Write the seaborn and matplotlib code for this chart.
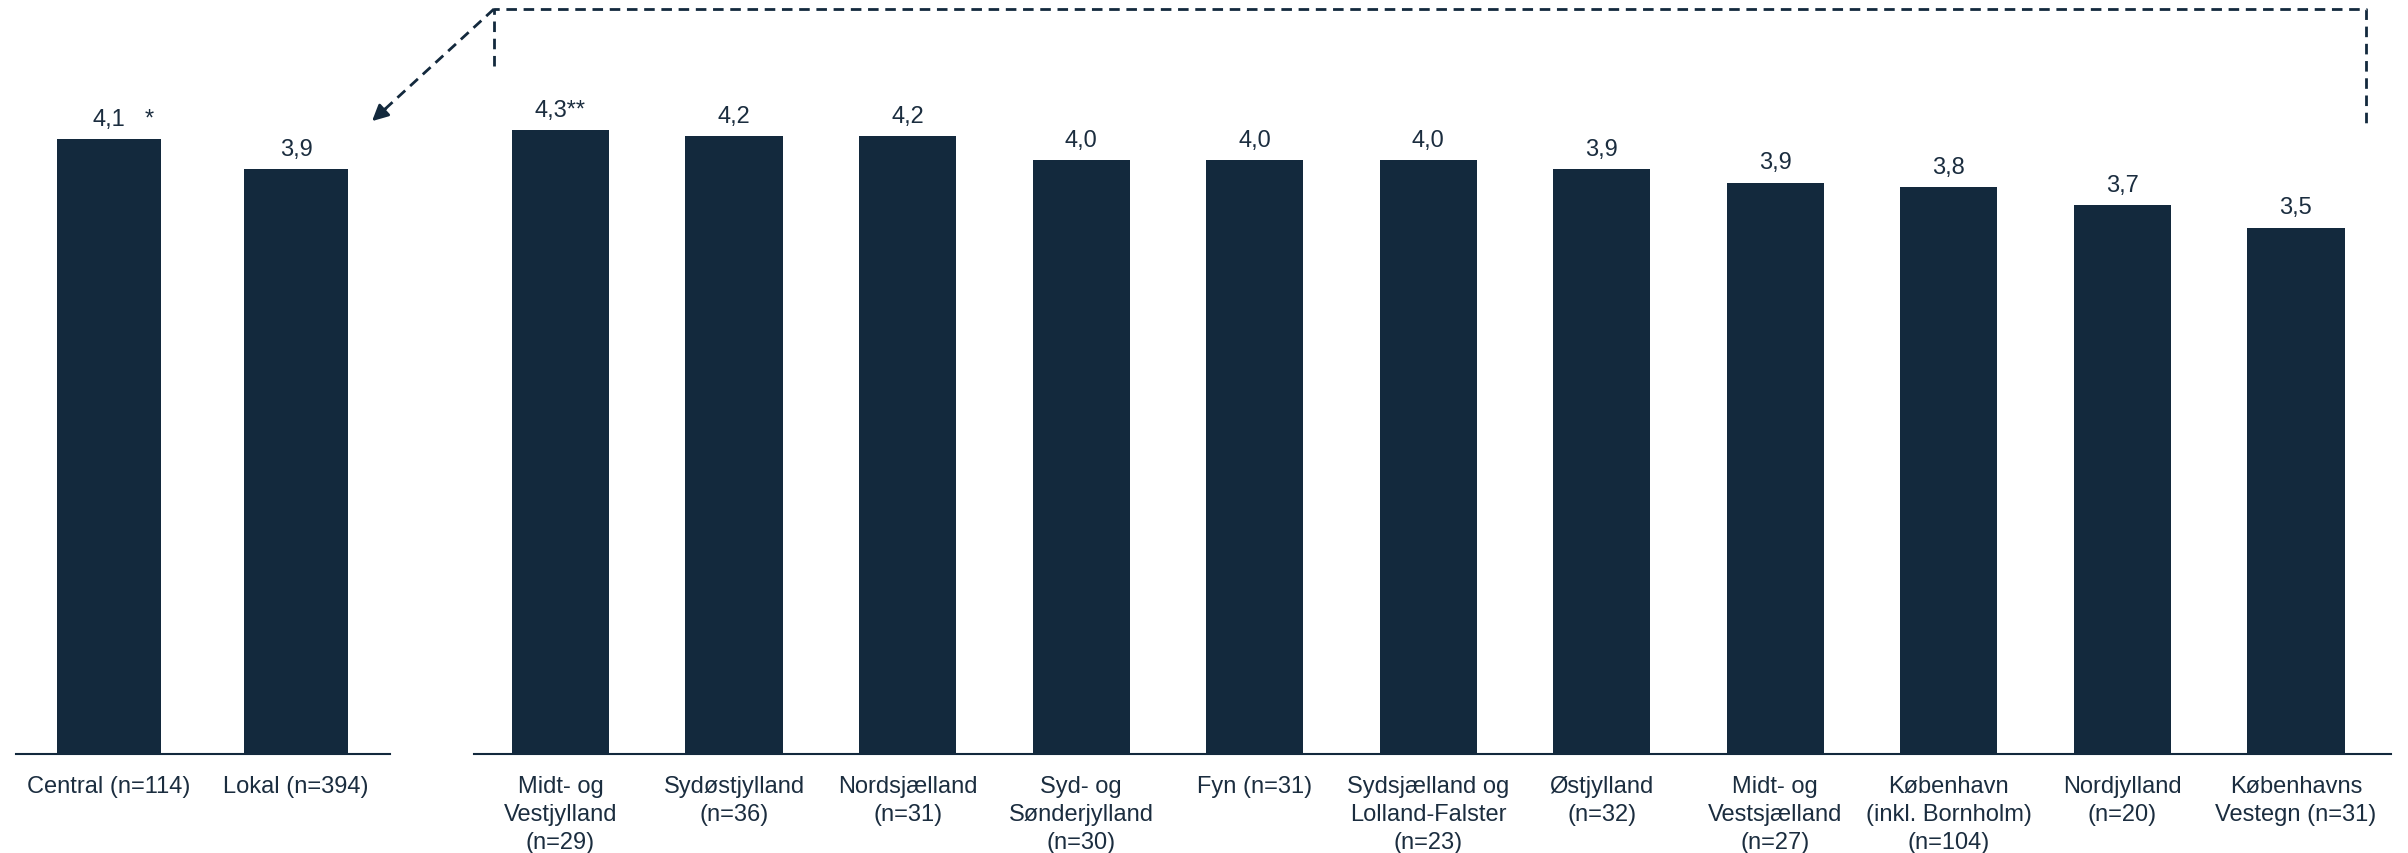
import matplotlib
matplotlib.use("Agg")
import matplotlib.pyplot as plt
import seaborn as sns
import pandas as pd
from matplotlib.lines import Line2D
from matplotlib.patches import FancyArrowPatch

# ---------------- data ----------------
left_categories = ["Central (n=114)", "Lokal (n=394)"]
left_values = [4.10, 3.90]
left_labels = ["4,1", "3,9"]
left_marks = ["*", ""]

right_categories = [
    "Midt- og\nVestjylland\n(n=29)",
    "Sydøstjylland\n(n=36)",
    "Nordsjælland\n(n=31)",
    "Syd- og\nSønderjylland\n(n=30)",
    "Fyn (n=31)",
    "Sydsjælland og\nLolland-Falster\n(n=23)",
    "Østjylland\n(n=32)",
    "Midt- og\nVestsjælland\n(n=27)",
    "København\n(inkl. Bornholm)\n(n=104)",
    "Nordjylland\n(n=20)",
    "Københavns\nVestegn (n=31)",
]
right_values = [4.16, 4.12, 4.12, 3.96, 3.96, 3.96, 3.90, 3.81, 3.78, 3.66, 3.51]
right_labels = ["4,3**", "4,2", "4,2", "4,0", "4,0", "4,0", "3,9", "3,9", "3,8", "3,7", "3,5"]

# ---------------- style ----------------
NAVY = "#13293d"
TEXT = "#1b2d3f"
sns.set_style("white")
plt.rcParams["font.family"] = ["Liberation Sans", "DejaVu Sans"]

W, H = 2408, 854
fig = plt.figure(figsize=(W / 100, H / 100), dpi=100)


def fx(px):
    return px / W


def fy(py):
    return 1 - py / H


ax_left = fig.add_axes([fx(15.5), 99 / H, 374 / W, 749.5 / H])
ax_right = fig.add_axes([fx(473.7), 99 / H, 1917.7 / W, 749.5 / H])


def draw(ax, cats, vals, labels, xmax):
    df = pd.DataFrame({"cat": cats, "val": vals})
    sns.barplot(data=df, x="cat", y="val", order=cats, color=NAVY,
                saturation=1, width=0.56, linewidth=0, ax=ax)
    ax.set_xlim(-0.5, xmax)
    ax.set_ylim(0, 5)
    ax.set_xlabel("")
    ax.set_ylabel("")
    ax.set_yticks([])
    ax.set_xticks(range(len(cats)))
    ax.set_xticklabels(cats, fontsize=17, color=TEXT, linespacing=1.35)
    ax.tick_params(axis="x", length=0, pad=15)
    for s in ["left", "top", "right"]:
        ax.spines[s].set_visible(False)
    ax.spines["bottom"].set_color(NAVY)
    ax.spines["bottom"].set_linewidth(1.5)
    ax.set_facecolor("none")
    for i, (v, lab) in enumerate(zip(vals, labels)):
        ax.annotate(lab, (i, v), xytext=(0, 7), textcoords="offset points",
                    ha="center", va="bottom", fontsize=17, color=TEXT)


draw(ax_left, left_categories, left_values, left_labels, 1.5)
draw(ax_right, right_categories, right_values, right_labels, 10.55)

for i, (v, m) in enumerate(zip(left_values, left_marks)):
    if m:
        ax_left.annotate(m, (i, v), xytext=(29, 7), textcoords="offset points",
                         ha="center", va="bottom", fontsize=17, color=TEXT)

# ---------------- dashed connector ----------------
dash = (0, (3.8, 2.4))
fig.add_artist(Line2D([fx(494), fx(494), fx(2366), fx(2366)],
                      [fy(67), fy(10), fy(10), fy(124)],
                      transform=fig.transFigure, color=NAVY, lw=2, ls=dash))
fig.add_artist(Line2D([fx(494), fx(384)], [fy(10), fy(111)],
                      transform=fig.transFigure, color=NAVY, lw=2, ls=dash))
fig.add_artist(FancyArrowPatch(posA=(fx(388), fy(107.5)), posB=(fx(370), fy(124)),
                               transform=fig.transFigure, arrowstyle="-|>",
                               mutation_scale=24, color=NAVY, lw=2))

fig.savefig("out.png", dpi=100)
